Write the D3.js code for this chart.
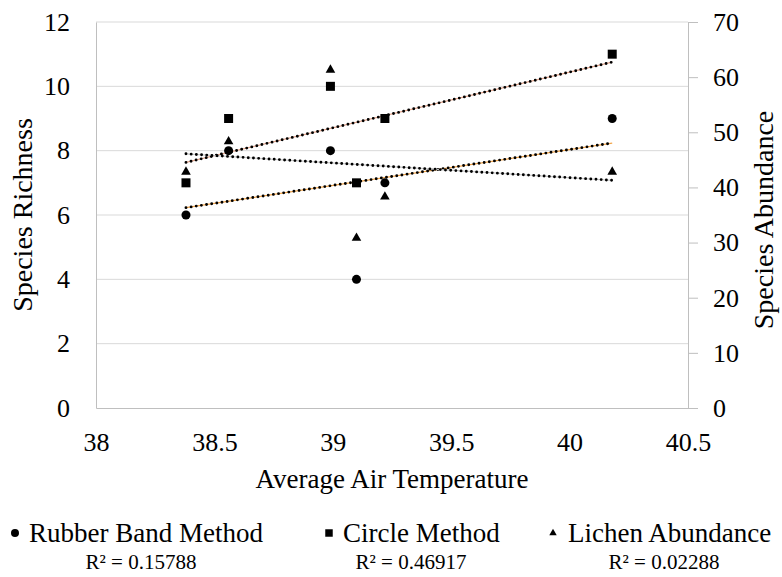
<!DOCTYPE html>
<html>
<head>
<meta charset="utf-8">
<script src="https://cdn.jsdelivr.net/npm/d3@7"></script>
<style>
  body { margin: 0; background: #fff; }
  svg { display: block; font-family: "Liberation Serif", "Times New Roman", serif; }
</style>
</head>
<body>
<svg id="svg" width="782" height="577"></svg>
<script>
// Values
var temps = [38.38, 38.56, 38.99, 39.10, 39.22, 40.18];   // Average Air Temperature
var rubberBand = [6, 8, 8, 4, 7, 9];                      // species richness (left axis)
var circleMethod = [7, 9, 10, 7, 9, 11];                  // species richness (left axis)
var lichen = [43, 48.5, 61.5, 31, 38.5, 43];              // species abundance (right axis)

var xTicks = [38, 38.5, 39, 39.5, 40, 40.5];
var leftTicks = [0, 2, 4, 6, 8, 10, 12];
var rightTicks = [0, 10, 20, 30, 40, 50, 60, 70];
var seriesNames = ["Rubber Band Method", "Circle Method", "Lichen Abundance"];
var rSquared = ["R\u00B2 = 0.15788", "R\u00B2 = 0.46917", "R\u00B2 = 0.02288"];

var svg = d3.select("svg");

// plot box (don't call it "top", window.top is read only)
var plotLeft = 96, plotRight = 688, plotTop = 22, plotBottom = 408;

var x = d3.scaleLinear().domain([38, 40.5]).range([plotLeft, plotRight]);
var yLeft = d3.scaleLinear().domain([0, 12]).range([plotBottom, plotTop]);
var yRight = d3.scaleLinear().domain([0, 70]).range([plotBottom, plotTop]);

svg.append("rect").attr("width", 782).attr("height", 577).attr("fill", "#fff");

// gridlines
svg.append("g")
    .selectAll("line")
    .data(leftTicks.slice(1))
    .enter().append("line")
    .attr("x1", plotLeft).attr("x2", plotRight)
    .attr("y1", function(d) { return yLeft(d); })
    .attr("y2", function(d) { return yLeft(d); })
    .attr("stroke", "#d9d9d9")
    .attr("stroke-width", 1);

// axes
var gLeft = svg.append("g")
    .attr("transform", "translate(" + plotLeft + ",0)")
    .call(d3.axisLeft(yLeft).tickValues(leftTicks).tickSize(0).tickPadding(26).tickFormat(d3.format("d")));

var gBottom = svg.append("g")
    .attr("transform", "translate(0," + plotBottom + ")")
    .call(d3.axisBottom(x).tickValues(xTicks).tickSize(0).tickPadding(25).tickFormat(function(d) { return String(d); }));

var gRight = svg.append("g")
    .attr("transform", "translate(" + plotRight + ",0)")
    .call(d3.axisRight(yRight).tickValues(rightTicks).tickSize(10).tickSizeOuter(0).tickPadding(15).tickFormat(d3.format("d")));

[gLeft, gBottom, gRight].forEach(function(g) {
    g.select(".domain").attr("stroke", "#bfbfbf");
    g.selectAll(".tick line").attr("stroke", "#bfbfbf");
    g.selectAll(".tick text")
        .attr("fill", "#000")
        .style("font-size", "26px")
        .style("font-family", "'Liberation Serif', 'Times New Roman', serif");
});

// axis titles
svg.append("text")
    .attr("x", (plotLeft + plotRight) / 2).attr("y", 488)
    .attr("text-anchor", "middle")
    .style("font-size", "27px")
    .text("Average Air Temperature");

svg.append("text")
    .attr("transform", "translate(32," + (plotTop + plotBottom) / 2 + ") rotate(-90)")
    .attr("text-anchor", "middle")
    .style("font-size", "28px")
    .text("Species Richness");

svg.append("text")
    .attr("transform", "translate(773,220) rotate(-90)")
    .attr("text-anchor", "middle")
    .style("font-size", "28px")
    .text("Species Abundance");

// linear trend lines
function fit(xs, ys) {
    var mx = d3.mean(xs), my = d3.mean(ys);
    var sxy = d3.sum(xs, function(v, i) { return (v - mx) * (ys[i] - my); });
    var sxx = d3.sum(xs, function(v) { return (v - mx) * (v - mx); });
    var b = sxy / sxx;
    return function(v) { return my + b * (v - mx); };
}

var xExt = d3.extent(temps);
var trends = [
    { ys: rubberBand, y: yLeft, under: "#f2a54a" },
    { ys: circleMethod, y: yLeft, under: "#e3a58c" },
    { ys: lichen, y: yRight, under: "#c8c8c8" }
];

trends.forEach(function(t) {
    var f = fit(temps, t.ys);
    var line = svg.append("g");
    line.append("line")
        .attr("x1", x(xExt[0])).attr("x2", x(xExt[1]))
        .attr("y1", t.y(f(xExt[0]))).attr("y2", t.y(f(xExt[1])))
        .attr("stroke", t.under).attr("stroke-width", 1.3);
    line.append("line")
        .attr("x1", x(xExt[0])).attr("x2", x(xExt[1]))
        .attr("y1", t.y(f(xExt[0]))).attr("y2", t.y(f(xExt[1])))
        .attr("stroke", "#000").attr("stroke-width", 2.9)
        .attr("stroke-linecap", "round")
        .attr("stroke-dasharray", "0 5.2");
});

// markers
var circleSym = d3.symbol().type(d3.symbolCircle).size(64);
var squareSym = d3.symbol().type(d3.symbolSquare).size(81);
var triSym = d3.symbol().type(d3.symbolTriangle).size(40);

svg.append("g").selectAll("path")
    .data(rubberBand)
    .enter().append("path")
    .attr("d", circleSym)
    .attr("transform", function(d, i) { return "translate(" + x(temps[i]) + "," + yLeft(d) + ")"; })
    .attr("fill", "#000");

svg.append("g").selectAll("path")
    .data(circleMethod)
    .enter().append("path")
    .attr("d", squareSym)
    .attr("transform", function(d, i) { return "translate(" + x(temps[i]) + "," + yLeft(d) + ")"; })
    .attr("fill", "#000");

svg.append("g").selectAll("path")
    .data(lichen)
    .enter().append("path")
    .attr("d", triSym)
    .attr("transform", function(d, i) { return "translate(" + x(temps[i]) + "," + (yRight(d) + 1) + ")"; })
    .attr("fill", "#000");

// legend
var legendItems = [
    { sym: d3.symbol().type(d3.symbolCircle).size(50), mx: 15, tx: 29, cx: 141 },
    { sym: d3.symbol().type(d3.symbolSquare).size(56), mx: 329, tx: 343, cx: 411 },
    { sym: d3.symbol().type(d3.symbolTriangle).size(24), mx: 553, tx: 568, cx: 664 }
];

var legend = svg.append("g");
legendItems.forEach(function(item, i) {
    legend.append("path")
        .attr("d", item.sym)
        .attr("transform", "translate(" + item.mx + ",533)")
        .attr("fill", "#000");
    legend.append("text")
        .attr("x", item.tx).attr("y", 542)
        .style("font-size", "27px")
        .text(seriesNames[i]);
    legend.append("text")
        .attr("x", item.cx).attr("y", 569)
        .attr("text-anchor", "middle")
        .style("font-size", "21px")
        .text(rSquared[i]);
});
</script>
</body>
</html>
